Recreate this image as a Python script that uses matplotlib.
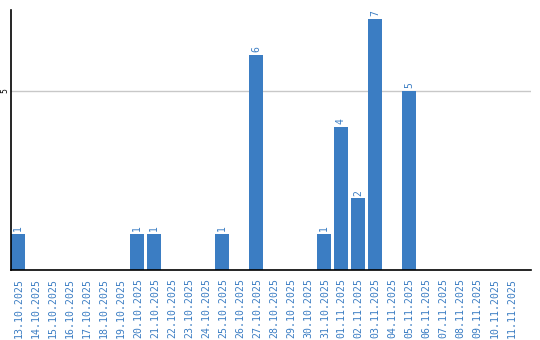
import matplotlib
matplotlib.use("Agg")
import matplotlib.pyplot as plt

# data
dates = ["13.10.2025", "14.10.2025", "15.10.2025", "16.10.2025", "17.10.2025",
         "18.10.2025", "19.10.2025", "20.10.2025", "21.10.2025", "22.10.2025",
         "23.10.2025", "24.10.2025", "25.10.2025", "26.10.2025", "27.10.2025",
         "28.10.2025", "29.10.2025", "30.10.2025", "31.10.2025", "01.11.2025",
         "02.11.2025", "03.11.2025", "04.11.2025", "05.11.2025", "06.11.2025",
         "07.11.2025", "08.11.2025", "09.11.2025", "10.11.2025", "11.11.2025"]
counts = [1, 0, 0, 0, 0, 0, 0, 1, 1, 0,
          0, 0, 1, 0, 6, 0, 0, 0, 1, 4,
          2, 7, 0, 5, 0, 0, 0, 0, 0, 0]

BLUE = "#3b7dc3"
W, H = 540, 340

fig = plt.figure(figsize=(W / 100, H / 100), dpi=100)
ax = fig.add_axes([11 / W, 70 / H, 520 / W, 260 / H])

bw = 14 / 17
xs = list(range(len(dates)))
ax.bar(xs, counts, width=bw, align="edge", color=BLUE, zorder=3)

for x, c in zip(xs, counts):
    if c > 0:
        ax.text(x + bw / 2, c + 0.08, str(c), rotation=90, ha="center", va="bottom",
                color=BLUE, fontsize=7, fontfamily="DejaVu Sans Mono")

ax.set_xlim(0, 520 / 17)
ax.set_ylim(0, 7.26)
ax.axhline(5, color="#c8c8c8", linewidth=1, zorder=1)

ax.set_yticks([5])
ax.set_yticklabels(["5"], rotation=90, va="center", fontsize=5.5)
ax.set_xticks([x + bw / 2 + 0.05 for x in xs])
ax.set_xticklabels(dates, rotation=90, fontsize=7.1, color=BLUE,
                   fontfamily="DejaVu Sans Mono")
ax.tick_params(axis="both", length=0)
ax.tick_params(axis="y", pad=1)
ax.tick_params(axis="x", pad=6)

for s in ["top", "right"]:
    ax.spines[s].set_visible(False)
for s in ["left", "bottom"]:
    ax.spines[s].set_linewidth(1.2)
    ax.spines[s].set_color("black")
    ax.spines[s].set_zorder(4)

fig.savefig("out.png", dpi=100)
